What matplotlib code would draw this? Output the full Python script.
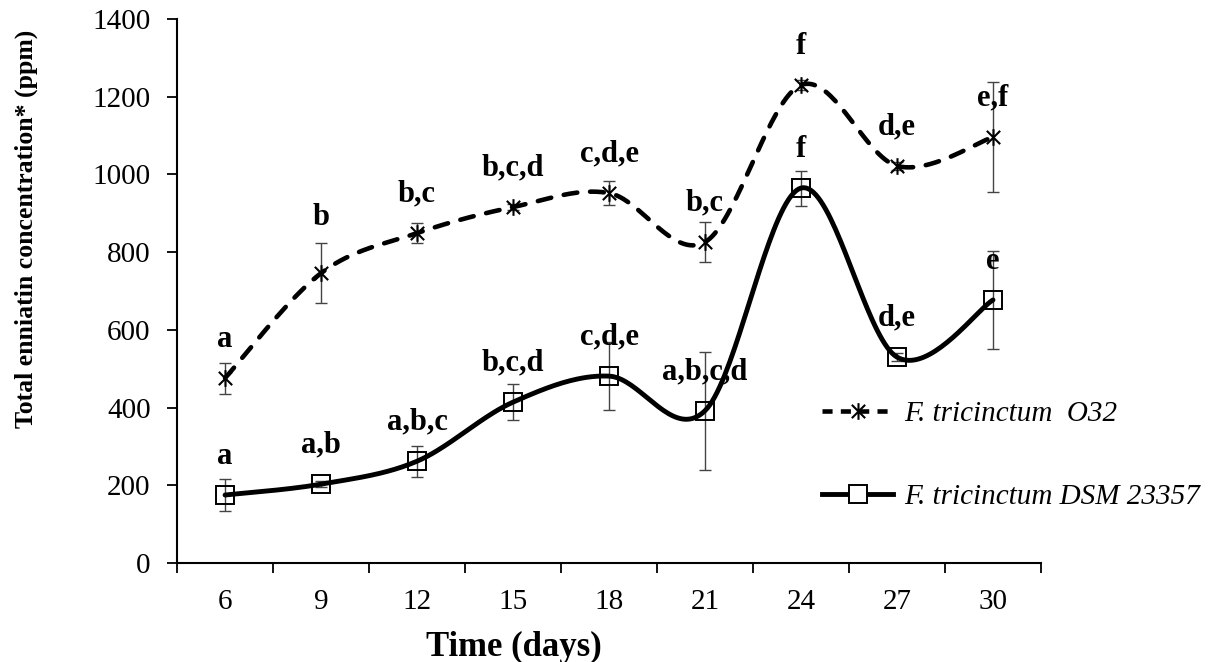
import numpy as np
import matplotlib
matplotlib.use('Agg')
import matplotlib.pyplot as plt
from matplotlib.path import Path
from matplotlib.lines import Line2D

# data
days = [6, 9, 12, 15, 18, 21, 24, 27, 30]
o32 = [476, 746, 849, 916, 952, 826, 1230, 1022, 1096]
o32_err = [40, 77, 26, 8, 30, 52, 13, 10, 142]
o32_letters = ['a', 'b', 'b,c', 'b,c,d', 'c,d,e', 'b,c', 'f', 'd,e', 'e,f']
dsm = [175, 203, 262, 414, 481, 392, 965, 530, 677]
dsm_err = [41, 8, 40, 46, 88, 152, 45, 10, 125]
dsm_letters = ['a', 'a,b', 'a,b,c', 'b,c,d', 'c,d,e', 'a,b,c,d', 'f', 'd,e', 'e']
yticks = [0, 200, 400, 600, 800, 1000, 1200, 1400]

plt.rcParams['font.family'] = ['Liberation Serif', 'DejaVu Serif']


def excel_smooth(x, y, n=40):
    # bezier smoothing like excel's "smoothed line"
    x = np.asarray(x, float)
    y = np.asarray(y, float)
    pts = np.column_stack([x, y])
    out = []
    t = np.linspace(0, 1, n)[:, None]
    for i in range(len(pts) - 1):
        p0 = pts[max(i - 1, 0)]
        p1 = pts[i]
        p2 = pts[i + 1]
        p3 = pts[min(i + 2, len(pts) - 1)]
        c1 = p1 + (p2 - p0) / 6
        c2 = p2 - (p3 - p1) / 6
        seg = ((1 - t) ** 3) * p1 + 3 * ((1 - t) ** 2) * t * c1 + 3 * (1 - t) * t ** 2 * c2 + t ** 3 * p2
        out.append(seg if i == 0 else seg[1:])
    out = np.vstack(out)
    return out[:, 0], out[:, 1]


star = Path([(0, -1), (0, 1), (-0.8, -0.8), (0.8, 0.8), (-0.8, 0.8), (0.8, -0.8)],
            [Path.MOVETO, Path.LINETO, Path.MOVETO, Path.LINETO, Path.MOVETO, Path.LINETO])

fig = plt.figure(figsize=(12.11, 6.62), dpi=100)
ax = fig.add_axes([0.1462, 0.1495, 0.7134, 0.8218])

xpos = np.arange(len(days))
dash = (0, (3.0, 2.8))

# O32 dashed
sx, sy = excel_smooth(xpos, o32)
ax.plot(sx, sy, color='black', lw=3.3, ls=dash, dash_capstyle='round', zorder=3)
ax.errorbar(xpos, o32, yerr=o32_err, fmt='none', ecolor='#444444', elinewidth=1, capsize=4.3, capthick=1, zorder=2)
ax.plot(xpos, o32, ls='none', marker=star, ms=12, mec='black', mew=1.5, zorder=4)

# DSM solid
sx, sy = excel_smooth(xpos, dsm)
ax.plot(sx, sy, color='black', lw=3.5, solid_capstyle='round', zorder=3)
ax.errorbar(xpos, dsm, yerr=dsm_err, fmt='none', ecolor='#444444', elinewidth=1, capsize=4.3, capthick=1, zorder=2)
ax.plot(xpos, dsm, ls='none', marker='s', ms=13, mfc='none', mec='black', mew=1.4, zorder=4)

# significance letters
nudge = {1: 12}
for i, (v, lab) in enumerate(zip(o32, o32_letters)):
    ax.annotate(lab, (xpos[i], v), xytext=(0, 28 + nudge.get(i, 0)), textcoords='offset points',
                ha='center', va='center', fontsize=22, fontweight='bold')
for i, (v, lab) in enumerate(zip(dsm, dsm_letters)):
    ax.annotate(lab, (xpos[i], v), xytext=(0, 28), textcoords='offset points',
                ha='center', va='center', fontsize=22, fontweight='bold')

ax.set_xlim(-0.5, len(days) - 0.5)
ax.set_ylim(0, 1400)
ax.set_yticks(yticks)
ax.set_xticks(xpos)
ax.set_xticklabels([str(d) for d in days])
ax.set_xticks(np.arange(-0.5, len(days)), minor=True)
ax.tick_params(axis='x', which='major', length=0, labelsize=21, pad=19)
ax.tick_params(axis='x', which='minor', length=7, width=1.3, direction='out')
ax.tick_params(axis='y', length=7, width=1.3, direction='out', labelsize=21, pad=12)
for s in ['top', 'right']:
    ax.spines[s].set_visible(False)
for s in ['left', 'bottom']:
    ax.spines[s].set_linewidth(1.5)

ax.set_xlabel('Time (days)', fontsize=25, fontweight='bold')
ax.xaxis.set_label_coords(0.39, -0.125)
ax.set_ylabel('Total enniatin concentration* (ppm)', fontsize=18.5, fontweight='bold')
ax.yaxis.set_label_coords(-0.161, 0.615)

handles = [
    Line2D([], [], color='black', lw=3.3, ls=(0, (2.2, 1.8)), marker=star, ms=12, mec='black', mew=1.5),
    Line2D([], [], color='black', lw=3.5, marker='s', ms=13, mfc='white', mec='black', mew=1.4),
]
labels = ['F. tricinctum  O32', 'F. tricinctum DSM 23357']
fig.legend(handles, labels, loc='center left', bbox_to_anchor=(822 / 1211, 1 - 455.5 / 662), frameon=False,
           prop={'style': 'italic', 'size': 21}, labelspacing=1.95, handlelength=2.45, handletextpad=0.35,
           borderpad=0, borderaxespad=0)

fig.savefig('out.png', dpi=100)
